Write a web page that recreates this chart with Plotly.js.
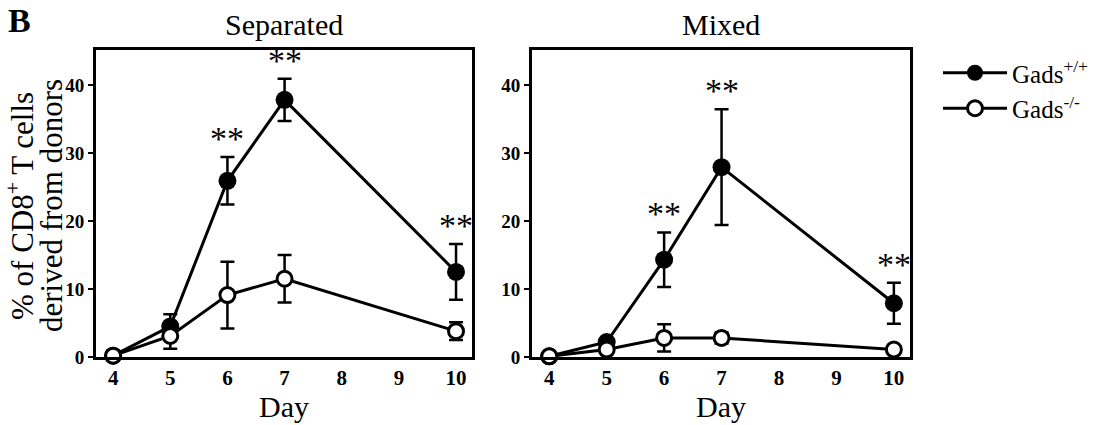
<!DOCTYPE html>
<html>
<head>
<meta charset="utf-8">
<script src="https://cdn.plot.ly/plotly-3.0.1.min.js"></script>
<style>html,body{margin:0;padding:0;background:#fff;}#chart{width:1107px;height:425px;}</style>
</head>
<body>
<div id="chart"></div>
<script>
// ---- data ----
const days = [4, 5, 6, 7, 10];
const panelTitles = ["Separated", "Mixed"];
const seriesNames = ["Gads<sup>+/+</sup>", "Gads<sup>-/-</sup>"];
const yTitleLines = ["% of CD8<sup>+</sup> T cells", "derived from donors"];
const xTitle = "Day";

// Separated
const sepWT = [0.2, 4.5, 25.9, 37.8, 12.5];
const sepWTerr = [0, 1.8, 3.5, 3.1, 4.1];
const sepKO = [0.2, 3.1, 9.1, 11.5, 3.8];
const sepKOerr = [0, 1.9, 4.9, 3.5, 1.3];
const sepSig = [false, false, true, true, true];

// Mixed
const mixWT = [0.1, 2.2, 14.3, 27.9, 7.9];
const mixWTerr = [0, 0.5, 4.0, 8.5, 3.0];
const mixKO = [0.1, 1.1, 2.8, 2.8, 1.1];
const mixKOerr = [0, 0.4, 2.0, 0.8, 0.3];
const mixSig = [false, false, true, true, true];

const xTicks = [4, 5, 6, 7, 8, 9, 10];
const yTicks = [0, 10, 20, 30, 40];

// ---- styling ----
const FONT = "Liberation Serif, Times New Roman, serif";

function mkTrace(y, err, filled, xa, ya, name, show) {
  return {
    x: days, y: y, type: "scatter", mode: "lines+markers",
    xaxis: xa, yaxis: ya, name: name, showlegend: show, legendgroup: name,
    cliponaxis: false,
    line: {color: "black", width: 3},
    marker: {symbol: "circle", size: filled ? 18 : 15,
             color: filled ? "black" : "white",
             line: {color: "black", width: filled ? 0 : 3}},
    error_y: {type: "data", array: err, visible: true, color: "black", thickness: 2.5, width: 7}
  };
}

const data = [
  mkTrace(sepWT, sepWTerr, true, "x", "y", seriesNames[0], true),
  mkTrace(sepKO, sepKOerr, false, "x", "y", seriesNames[1], true),
  mkTrace(mixWT, mixWTerr, true, "x2", "y2", seriesNames[0], false),
  mkTrace(mixKO, mixKOerr, false, "x2", "y2", seriesNames[1], false)
];

const annotations = [];
function addSig(y, err, sig, xref, yref) {
  days.forEach((d, i) => {
    if (sig[i]) annotations.push({
      x: d, y: y[i] + err[i], xref: xref, yref: yref, text: "**", showarrow: false,
      yanchor: "bottom", yshift: -2, font: {family: FONT, size: 34, color: "black"}
    });
  });
}
addSig(sepWT, sepWTerr, sepSig, "x", "y");
addSig(mixWT, mixWTerr, mixSig, "x2", "y2");

const D1 = [0.0867, 0.4264], D2 = [0.4806, 0.822], DY = [0.16, 0.882];

annotations.push({text: "<b>B</b>", x: 6/1107, y: 1 - 20/425, xref: "paper", yref: "paper",
  xanchor: "left", yanchor: "middle", showarrow: false, font: {family: FONT, size: 34, color: "black"}});
annotations.push({text: panelTitles[0], x: (D1[0] + D1[1])/2, y: 1 - 24/425, xref: "paper", yref: "paper",
  xanchor: "center", yanchor: "middle", showarrow: false, font: {family: FONT, size: 30, color: "black"}});
annotations.push({text: panelTitles[1], x: (D2[0] + D2[1])/2, y: 1 - 24/425, xref: "paper", yref: "paper",
  xanchor: "center", yanchor: "middle", showarrow: false, font: {family: FONT, size: 30, color: "black"}});
// y-axis title as two tightly spaced rotated lines
[21, 52].forEach((px, i) => annotations.push({text: yTitleLines[i], x: px/1107, y: 1 - 206/425,
  xref: "paper", yref: "paper", xanchor: "center", yanchor: "middle", textangle: -90, showarrow: false,
  font: {family: FONT, size: 31, color: "black"}}));

function xax(domain, anchor) {
  return {domain: domain, anchor: anchor, range: [3.7, 10.28], tickvals: xTicks,
    ticktext: xTicks.map(v => "<b>" + v + "</b>"),
    ticks: "", showline: true, mirror: true, linewidth: 3, linecolor: "black",
    showgrid: false, zeroline: false, fixedrange: true,
    tickfont: {family: FONT, size: 21, color: "black"},
    title: {text: xTitle, font: {family: FONT, size: 30, color: "black"}, standoff: 0}};
}
function yax(domain, anchor) {
  return {domain: domain, anchor: anchor, range: [0, 45.1], tickvals: yTicks,
    ticktext: yTicks.map(v => "<b>" + v + "</b>"),
    ticks: "outside", ticklen: 5, tickwidth: 2, tickcolor: "black",
    showline: true, mirror: true, linewidth: 3, linecolor: "black",
    showgrid: false, zeroline: false, fixedrange: true,
    tickfont: {family: FONT, size: 19, color: "black"}};
}

const layout = {
  width: 1107, height: 425,
  margin: {l: 0, r: 0, t: 0, b: 0},
  paper_bgcolor: "white", plot_bgcolor: "white",
  font: {family: FONT, color: "black"},
  xaxis: xax(D1, "y"),
  yaxis: yax(DY, "x"),
  xaxis2: xax(D2, "y2"),
  yaxis2: yax(DY, "x2"),
  showlegend: true,
  legend: {x: 938/1107, y: 1 - 50/425, xanchor: "left", yanchor: "top", bgcolor: "rgba(0,0,0,0)",
    font: {family: FONT, size: 25, color: "black"}, tracegroupgap: 0, itemwidth: 64},
  annotations: annotations
};

Plotly.newPlot("chart", data, layout, {displayModeBar: false, staticPlot: true});
</script>
</body>
</html>
